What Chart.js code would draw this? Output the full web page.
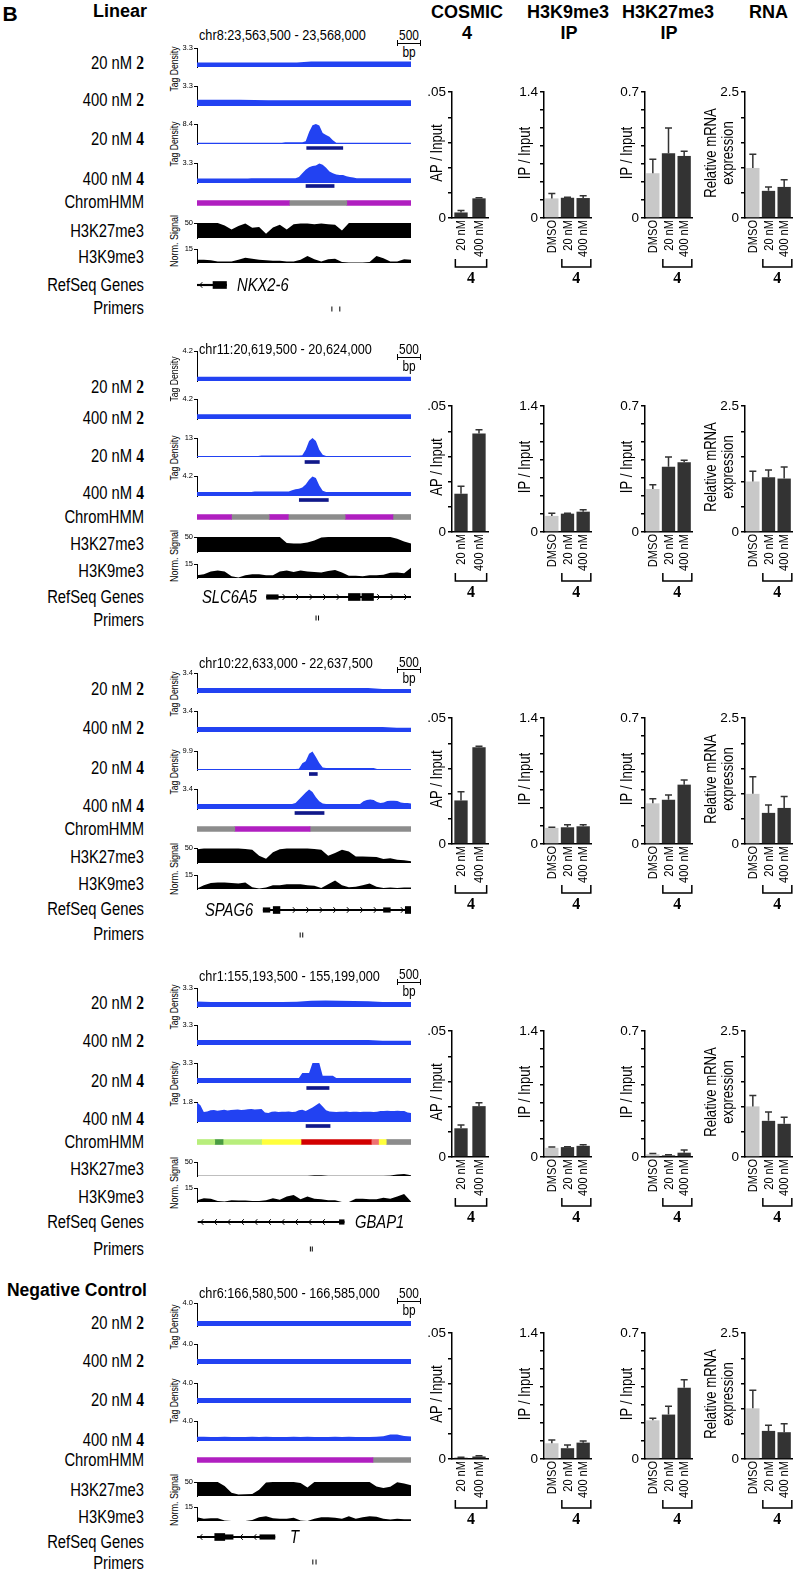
<!DOCTYPE html>
<html><head><meta charset="utf-8">
<script src="https://cdn.jsdelivr.net/npm/chart.js"></script>
<style>
html,body{margin:0;padding:0;background:#fff;overflow:hidden;}
#page{position:relative;width:794px;height:1572px;background:#fff;}
.t{position:absolute;white-space:nowrap;color:#000;line-height:1;}
canvas{position:absolute;}
.ln{position:absolute;background:#000;}
</style></head><body><div id="page"></div>
<script>
// ===================== DATA =====================
const locusGenes = ['NKX2-6','SLC6A5','SPAG6','GBAP1','T'];
const locusCoords = ['chr8:23,563,500 - 23,568,000','chr11:20,619,500 - 20,624,000','chr10:22,633,000 - 22,637,500','chr1:155,193,500 - 155,199,000','chr6:166,580,500 - 166,585,000'];
const regionLengthBp = [4500,4500,4500,5500,4500];
const sectionTitles = ['Linear', null, null, null, 'Negative Control'];
const trackConc = ['20 nM','400 nM','20 nM','400 nM'];
const trackCompound = ['2','2','4','4'];
const tagDensityMax = [[3.3,3.3,8.4,3.3],[4.2,4.2,13,4.2],[3.4,3.4,9.9,3.4],[3.3,3.3,3.3,1.8],[4.0,4.0,4.0,4.0]];
const tagDensityMaxLabels = [['3.3','3.3','8.4','3.3'],['4.2','4.2','13','4.2'],['3.4','3.4','9.9','3.4'],['3.3','3.3','3.3','1.8'],['4.0','4.0','4.0','4.0']];

const tagDensityNKX2_6 = [
 [0.8,0.8,0.8,0.8,0.8,0.8,0.8,0.8,0.95,0.95,0.95,0.95,0.95,0.95,0.95,0.95],
 [1.05,1.05,1.05,1.05,1.0,0.95,0.95,0.95,0.95,0.95,0.95,0.95,0.95,0.95,0.95,0.95],
 [0.55,0.55,0.55,0.55,0.55,0.55,0.55,0.55,0.55,0.55,0.55,0.55,0.55,0.55,0.55,0.55,0.55,0.55,0.55,0.55,0.55,0.55,0.55,0.55,0.55,0.55,0.7,0.7,0.7,0.7,0.7,0.7,1.2,5,7.9,8.4,7.8,4.6,3.8,3.0,1.6,0.55,0.55,0.55,0.55,0.55,0.55,0.55,0.55,0.55,0.55,0.55,0.55,0.55,0.55,0.55,0.55,0.55,0.55,0.55,0.55,0.55,0.55,0.55],
 [0.75,0.75,0.75,0.75,0.75,0.75,0.75,0.75,0.75,0.75,0.75,0.75,0.75,0.75,0.75,0.75,0.8,0.8,0.8,0.8,0.8,0.8,0.8,0.8,0.8,0.8,0.8,0.8,0.8,0.8,1.0,1.6,2.2,2.6,2.8,2.9,3.2,3.0,2.5,1.9,1.6,1.4,1.3,1.3,1.1,1.0,0.9,0.8,0.8,0.8,0.8,0.8,0.8,0.8,0.8,0.8,0.8,0.8,0.8,0.8,0.8,0.8,0.8,0.8]
];
const tagDensitySLC6A5 = [
 [0.6,0.6,0.6,0.6,0.6,0.6,0.6,0.6,0.6,0.6,0.6,0.6,0.6,0.6,0.6,0.6],
 [0.98,0.98,0.98,0.98,0.98,0.98,0.98,0.98,0.98,0.98,0.98,0.98,0.98,0.98,0.98,0.98],
 [0.7,0.7,0.7,0.7,0.7,0.7,0.7,0.7,0.7,0.7,0.7,0.7,0.7,0.7,0.7,0.7,0.7,0.7,0.7,1.0,1.0,1.0,1.0,1.0,1.0,1.0,1.0,1.0,1.0,1.0,1.0,1.2,5,11,13,11,5,1.5,0.7,0.7,0.7,0.7,0.7,0.7,0.7,0.7,0.7,0.7,0.7,0.7,0.7,0.7,0.7,0.7,0.7,0.7,0.7,0.7,0.7,0.7,0.7,0.7,0.7,0.7],
 [0.85,0.85,0.85,0.85,0.85,0.85,0.85,0.85,0.85,0.85,0.85,0.85,0.85,0.85,0.85,0.85,0.85,0.95,0.95,0.95,0.95,0.95,0.95,0.95,0.95,0.95,0.95,0.95,1.2,1.4,1.5,1.8,2.4,3.4,4.1,3.8,2.2,1.1,0.85,0.85,0.85,0.85,0.85,0.85,0.85,0.85,0.85,0.85,0.85,0.85,0.85,0.85,0.85,0.85,0.85,0.85,0.85,0.85,0.85,0.85,0.85,0.85,0.85,0.85]
];
const tagDensitySPAG6 = [
 [0.85,0.85,0.85,0.85,0.85,0.85,0.85,0.85,0.85,0.85,0.85,0.85,0.85,0.7,0.7,0.7],
 [0.82,0.82,0.82,0.82,0.82,0.82,0.82,0.82,0.82,0.82,0.82,0.82,0.82,0.82,0.68,0.68],
 [0.5,0.5,0.5,0.5,0.5,0.5,0.5,0.5,0.5,0.5,0.5,0.5,0.5,0.5,0.5,0.5,0.5,0.5,0.5,0.5,0.5,0.5,0.5,0.5,0.5,0.5,0.5,0.5,0.5,0.5,0.6,3.5,4.5,8.5,9.6,6.8,3.6,1.3,1.1,1.1,1.1,1.1,1.1,1.1,1.1,1.1,1.1,1.1,1.1,1.1,1.1,1.1,1.1,0.5,0.5,0.5,0.5,0.5,0.5,0.5,0.5,0.5,0.5,0.5],
 [0.85,0.85,0.85,0.85,0.85,0.85,0.85,0.85,0.85,0.85,0.85,0.85,0.85,0.85,0.85,0.85,0.85,0.85,0.85,0.85,0.85,0.85,0.85,0.85,0.85,0.85,0.85,0.85,0.85,1.0,1.6,2.2,2.8,3.3,2.9,2.0,1.3,0.95,0.85,0.85,0.85,0.85,0.85,0.85,0.85,0.85,0.85,0.85,0.85,1.3,1.55,1.6,1.55,1.2,1.0,1.1,1.35,1.4,1.4,1.35,1.1,1.0,1.0,0.95]
];
const tagDensityGBAP1 = [
 [0.95,0.85,0.85,0.85,0.85,0.85,0.85,0.9,1.1,1.15,1.1,1.05,1.0,0.85,0.85,0.85],
 [0.82,0.82,0.82,0.82,0.82,0.82,0.82,0.82,0.82,0.82,0.82,0.82,0.82,0.72,0.7,0.7],
 [0.82,0.82,0.82,0.82,0.82,0.82,0.82,0.82,0.82,0.82,0.82,0.82,0.82,0.82,0.82,0.82,0.82,0.82,0.82,0.82,0.82,0.82,0.82,0.82,0.82,0.82,0.82,0.82,0.82,0.82,0.82,1.65,1.65,1.65,3.3,3.3,3.3,1.2,1.2,1.2,1.2,0.82,0.82,0.82,0.82,0.82,0.82,0.82,0.82,0.82,0.82,0.82,0.82,0.82,0.82,0.82,0.82,0.82,0.82,0.82,0.82,0.82,0.82,0.82],
 [1.75,1.5,0.9,0.95,1.05,1.08,1.02,1.06,1.1,1.04,1.07,1.1,1.12,1.08,1.1,1.15,1.18,1.12,1.15,1.16,0.85,0.8,0.92,0.95,0.9,0.93,0.92,0.95,0.9,0.92,1.05,1.1,1.0,1.15,1.3,1.5,1.7,1.4,1.05,0.95,0.92,0.9,0.93,0.92,0.95,0.9,0.92,0.93,0.9,0.92,0.93,0.92,0.9,0.92,1.0,1.0,1.02,0.98,1.0,1.02,1.0,0.98,0.85,0.8]
];
const tagDensityT = [
 [0.86,0.86,0.86,0.86,0.86,0.86,0.86,0.86,0.86,0.86,0.86,0.86,0.86,0.86,0.86,0.86],
 [1.0,1.0,1.0,1.0,1.0,1.0,1.0,1.0,1.0,1.0,1.0,1.0,1.0,1.0,1.0,1.0],
 [1.0,1.0,1.0,1.0,1.0,1.0,1.0,1.0,1.0,1.0,1.0,1.0,1.0,1.0,1.0,1.0],
 [0.85,0.85,0.8,0.82,0.85,0.82,0.8,0.82,0.85,0.82,0.85,0.82,0.8,0.82,0.85,0.82,0.85,0.82,0.8,0.82,0.85,0.82,0.85,0.82,0.8,0.82,0.85,0.95,1.3,1.3,1.0,0.9]
];
const tagDensity = [tagDensityNKX2_6, tagDensitySLC6A5, tagDensitySPAG6, tagDensityGBAP1, tagDensityT];

const normSignalMax = [50, 15];
const normSignalMaxLabels = ['50','15'];
const h3k27me3Signal = [
 [50,50,50,50,42,28,40,48,34,37,14,35,44,28,46,48,48,46,48,46,44,25,50,50,50,50,50,50,50,50,50,50],
 [50,50,50,50,50,50,50,50,50,50,50,50,50,30,28,28,32,38,48,50,50,50,50,50,50,50,50,50,50,44,35,28],
 [46,48,48,48,48,48,48,47,44,24,14,36,46,48,48,48,48,47,44,24,33,44,38,22,22,21,20,13,16,11,9,6],
 [0.6,0.6,0.5,0.6,0.5,0.6,0.6,0.5,0.6,0.6,0.5,0.6,0.6,0.5,0.6,0.6,0.8,2.5,3,0.8,0.6,0.5,0.6,0.6,0.5,0.6,0.6,1,2,5,7,3],
 [50,50,50,50,36,12,5,6,7,22,48,50,50,50,50,46,30,50,50,50,50,50,50,50,50,50,34,29,33,49,45,38]
];
const h3k9me3Signal = [
 [3.5,3.5,3,1.5,1.5,1.5,3.5,5.5,4.5,3.5,3,2.5,2.5,1.5,1.5,3.5,7.5,4,1.5,4,4.5,1,0.5,0.5,0.5,1,7.5,5,1.5,1.5,4,3.5],
 [3,4,7,8,7,2,0.5,3,4,4,3,3,7,8,6.5,8,7,6.5,6,7.5,8.5,6,2.5,2.5,2,3,3,3.5,5.5,6,5,11],
 [0.5,4,6.5,7,7,6.5,6,7,2,0.5,1.5,4,4,5,5,5,4,3.5,1,5,9,4,2,2.5,4,6,2.5,1,1.5,1,1.5,1.5],
 [2,4,3.5,1,0.5,2,1.5,1.5,1,1,2,4,2.5,6,7.5,3,6,3.5,3,2,2,0,0,3.5,3.5,3,3,4.5,3.5,6,8.5,0.5],
 [4,2.5,3,3,0.5,0,0,0,1,4,5,3,2.5,2.5,3.5,0.5,0,2.5,4,4,3.5,2.5,5,2.5,4,5,4.5,2.5,1.5,2.5,2,2]
];

// called peaks (bp from region start) under 20 nM 4 and 400 nM 4 tracks
const peakRegions = [
 [[2307,3066],[2292,2883]],
 [[2271,2573],[2151,2762]],
 [[2362,2530],[2060,2672]],
 [[2820,3394],[2802,3420]],
 []
];

const chromStarts = [[0,1940,3150],[0,725,1518,1919,3115,4120],[0,795,2377],[0,456,670,1659,2673,4478,4665,4864],[0,3699]];
const chromEnds   = [[1940,3150,4500],[725,1518,1919,3115,4120,4500],[795,2377,4500],[456,670,1659,2673,4478,4665,4864,5500],[3699,4500]];
const chromStates = [
 ['repressed','quiescent','repressed'],
 ['repressed','quiescent','repressed','quiescent','repressed','quiescent'],
 ['quiescent','repressed','quiescent'],
 ['txWeak','tx','txWeak','enhancer','tss','tssFlank','enhancer','quiescent'],
 ['repressed','quiescent']
];

const geneSpan = [[0,620],[1463,4500],[1392,4500],[26,3781],[0,1638]];
const geneExons = [
 [[337,620,'cds']],
 [[1463,1708,'utr'],[3184,3431,'cds'],[3467,3711,'cds']],
 [[1392,1533,'utr'],[1603,1744,'cds'],[3922,4064,'utr'],[4380,4500,'cds']],
 [[3660,3781,'utr']],
 [[373,584,'cds'],[584,759,'utr'],[1322,1638,'utr']]
];
const geneStrand = ['-','+','+','-','-'];
const primerPositions = [[2868,3044],[2517,2572],[2165,2222],[2923,2974],[2446,2517]];

// bar charts
const assayTitles = [['COSMIC','4'],['H3K9me3','IP'],['H3K27me3','IP'],['RNA']];
const cosmicCategories = ['20 nM','400 nM'];
const ipCategories = ['DMSO','20 nM','400 nM'];
const cosmicMean = [[0.0022,0.0078],[0.0152,0.0391],[0.0173,0.0384],[0.0114,0.0202],[0.0005,0.0010]];
const cosmicSD   = [[0.0008,0.0002],[0.0030,0.0015],[0.0035,0.0004],[0.0013,0.0013],[0.0002,0.0003]];
const k9Mean = [[0.218,0.225,0.222],[0.179,0.204,0.226],[0.179,0.186,0.197],[0.102,0.110,0.124],[0.175,0.120,0.182]];
const k9SD   = [[0.055,0.005,0.025],[0.029,0.004,0.022],[0.007,0.029,0.018],[0.010,0.004,0.011],[0.036,0.036,0.018]];
const k27Mean = [[0.249,0.360,0.345],[0.239,0.363,0.388],[0.226,0.246,0.330],[0.015,0.009,0.024],[0.215,0.247,0.396]];
const k27SD   = [[0.078,0.140,0.026],[0.024,0.054,0.011],[0.026,0.026,0.026],[0.004,0.004,0.015],[0.012,0.046,0.044]];
const rnaMean = [[0.994,0.539,0.617],[1.003,1.087,1.061],[0.996,0.618,0.716],[1.005,0.718,0.659],[1.006,0.558,0.532]];
const rnaSD   = [[0.272,0.078,0.143],[0.201,0.143,0.228],[0.339,0.157,0.228],[0.215,0.176,0.131],[0.358,0.111,0.169]];
const barYMax = [0.05, 1.4, 0.7, 2.5];
const barYMaxLabels = ['.05','1.4','0.7','2.5'];
const barYSteps = [5, 7, 7, 5];
const barYTitles = ['AP / Input','IP / Input','IP / Input','Relative mRNA<br>expression'];
const bracketLabel = '4';

// ===================== STYLE / LAYOUT =====================
const SANS = "'Liberation Sans',Arial,Helvetica,sans-serif";
const SERIF = "'Liberation Serif','Times New Roman',serif";
const NARROW_SX = 0.82;
const BLUE = '#2242f2';
const NAVY = '#10188a';
const stateColors = {repressed:'#b01fc0', quiescent:'#8c8c8c', txWeak:'#b8ee7c', tx:'#4a9c42', enhancer:'#ffff3c', tss:'#d20000', tssFlank:'#ee7272'};
const PLOT_LEFT = 197, PLOT_W = 214;

const rowLayout = [
 {chrY:35, scaleY:35, tracks:[[47.7,66.7],[86,105.7],[124.3,144],[162.7,182.7]], peakY:[147.7,185.7], chromY:202.7, k27:[223.3,238], k9:[249.3,263.3], geneY:285, primerY:309, labelY:[61.7,99.3,138.3,178.3,201.7,230.7,257.3,285,308.3], tagLabelY:[69,144], normLabelY:241, barTop:90, barZero:218.3, geneNameX:237, titleY:11},
 {chrY:349.3, scaleY:349, tracks:[[351,381],[399.3,419.3],[437.7,456.7],[475.7,495.7]], peakY:[461.7,500], chromY:517.3, k27:[537.3,551.7], k9:[564,577.7], geneY:597.3, primerY:618.3, labelY:[385.7,416.7,455,491.7,516.7,544,570.7,597.3,620], tagLabelY:[379,458], normLabelY:556, barTop:404.3, barZero:532.3, geneNameX:202},
 {chrY:662.7, scaleY:661.7, tracks:[[673.3,693.3],[711,731.7],[750.7,770],[789,809]], peakY:[774.3,812.7], chromY:829.3, k27:[848.3,863.3], k9:[875,889], geneY:910, primerY:935, labelY:[688.3,726.7,766.7,805,829.3,856.7,884,909.3,934.3], tagLabelY:[694,772], normLabelY:869, barTop:715.7, barZero:843.7, geneNameX:205},
 {chrY:975.7, scaleY:974.3, tracks:[[987.7,1006.7],[1025,1045],[1063.3,1083.3],[1101.7,1122.3]], peakY:[1087.7,1126], chromY:1142.3, k27:[1161.7,1175.7], k9:[1187.7,1201.7], geneY:1222.3, primerY:1249, labelY:[1001.7,1040,1080,1118.3,1142.3,1169,1197.3,1222.3,1249], tagLabelY:[1007,1084], normLabelY:1183, barTop:1029, barZero:1156.7, geneNameX:355},
 {chrY:1293.3, scaleY:1293, tracks:[[1302.7,1326],[1344.3,1364],[1382.7,1402.7],[1420.7,1441]], peakY:[], chromY:1460, k27:[1481.7,1496], k9:[1506.7,1520.7], geneY:1537.3, primerY:1561.7, labelY:[1322.3,1360,1399.3,1439.3,1460,1490,1516.7,1541.7,1563.3], tagLabelY:[1327,1401], normLabelY:1500, barTop:1331, barZero:1459.3, geneNameX:290, titleY:1290.7}
];

const barCols = [
 {axisX:452, plotW:36, cats:cosmicCategories, mean:cosmicMean, sd:cosmicSD, barPct:0.74, yTitleX:437, titleX:467},
 {axisX:544, plotW:47, cats:ipCategories, mean:k9Mean, sd:k9SD, barPct:0.85, yTitleX:525, titleX:568},
 {axisX:645, plotW:47, cats:ipCategories, mean:k27Mean, sd:k27SD, barPct:0.85, yTitleX:627, titleX:668},
 {axisX:745, plotW:47, cats:ipCategories, mean:rnaMean, sd:rnaSD, barPct:0.85, yTitleX:720, titleX:768.5}
];

// ===================== HELPERS =====================
Chart.defaults.font.family = SANS;
Chart.defaults.color = '#000';
Chart.defaults.plugins.legend.display = false;
Chart.defaults.plugins.tooltip.enabled = false;

const page = document.getElementById('page');
function canvasAt(l, t, w, h) {
  const c = document.createElement('canvas');
  w = Math.round(w); h = Math.round(h);
  c.width = w; c.height = h;
  c.style.left = Math.round(l) + 'px'; c.style.top = Math.round(t) + 'px';
  c.style.width = w + 'px'; c.style.height = h + 'px';
  page.appendChild(c);
  return c;
}
// narrow text = Liberation Sans condensed horizontally
function text(html, x, y, o = {}) {
  const d = document.createElement('div');
  d.className = 't';
  d.innerHTML = html;
  d.style.fontFamily = o.family || SANS;
  d.style.fontSize = (o.size || 18) + 'px';
  if (o.bold) d.style.fontWeight = 'bold';
  if (o.italic) d.style.fontStyle = 'italic';
  if (o.lh) { d.style.lineHeight = o.lh; d.style.textAlign = 'center'; }
  d.style.left = x + 'px'; d.style.top = y + 'px';
  const sx = o.wide ? 1 : NARROW_SX;
  let tx = '-50%', origin = '50% 50%';
  if (o.align === 'right') { tx = '-100%'; origin = '100% 50%'; }
  if (o.align === 'left') { tx = '0'; origin = '0 50%'; }
  d.style.transformOrigin = origin;
  d.style.transform = `translate(${tx},-50%)` + (o.rotate ? ` rotate(${o.rotate}deg)` : '') + ` scaleX(${sx})`;
  page.appendChild(d);
  return d;
}
// vertical label reading upward whose end sits at (x, y)
function upLabel(str, x, y, size) {
  const d = document.createElement('div');
  d.className = 't';
  d.textContent = str;
  d.style.fontFamily = SANS; d.style.fontSize = size + 'px';
  d.style.left = x + 'px'; d.style.top = y + 'px';
  d.style.transformOrigin = '0 0';
  d.style.transform = `rotate(-90deg) scaleX(${NARROW_SX}) translate(-100%,-50%)`;
  page.appendChild(d);
}
function line(l, t, w, h) {
  const d = document.createElement('div'); d.className = 'ln';
  d.style.left = l + 'px'; d.style.top = t + 'px'; d.style.width = w + 'px'; d.style.height = h + 'px';
  page.appendChild(d);
}
const baseOpts = () => ({responsive:false, animation:false, devicePixelRatio:1, events:[]});

function signalTrack(top, bottom, values, max, maxLabel, color) {
  const W = 27, P = 6;
  const t0 = Math.round(top), b0 = Math.round(bottom);
  const c = canvasAt(PLOT_LEFT - W, t0 - P, PLOT_W + W, b0 - t0 + 2 * P);
  new Chart(c, {
    type: 'line',
    data: {labels: values.map((_, i) => i), datasets: [{data: values, fill: 'origin', backgroundColor: color, borderWidth: 0, pointRadius: 0, tension: 0}]},
    options: Object.assign(baseOpts(), {
      layout: {padding: {top: P, left: 0, right: 0, bottom: P}},
      scales: {
        x: {display: false, offset: false},
        y: {min: 0, max: max,
            afterFit(s) { s.width = W; },
            afterBuildTicks(s) { s.ticks = [{value: max}]; },
            ticks: {font: {size: 7.5, family: SANS}, color: '#000', padding: 1, autoSkip: false, callback: () => maxLabel},
            grid: {drawOnChartArea: false, drawTicks: true, tickLength: 3, color: '#000', lineWidth: 1},
            border: {display: true, color: '#000', width: 1}}
      }
    })
  });
}

function hBarStrip(y, h, len, datasets) {
  const c = canvasAt(PLOT_LEFT, Math.round(y - h / 2), PLOT_W, h);
  new Chart(c, {
    type: 'bar',
    data: {labels: [''], datasets: datasets},
    options: Object.assign(baseOpts(), {
      indexAxis: 'y',
      layout: {padding: 0},
      scales: {x: {type: 'linear', min: 0, max: len, display: false}, y: {display: false}}
    })
  });
}

const chevronPlugin = {
  id: 'chevrons',
  afterDatasetsDraw(chart, args, opts) {
    const xs = chart.scales.x, ctx = chart.ctx;
    const cy = (chart.chartArea.top + chart.chartArea.bottom) / 2;
    const a = xs.getPixelForValue(opts.span[0]), b = xs.getPixelForValue(opts.span[1]);
    const ex = opts.exons.map(e => [xs.getPixelForValue(e[0]) - 3, xs.getPixelForValue(e[1]) + 3]);
    ctx.save(); ctx.strokeStyle = '#000'; ctx.lineWidth = 1;
    for (let p = a + 4; p < b - 2; p += 13.5) {
      if (ex.some(e => p > e[0] && p < e[1])) continue;
      const d = opts.strand === '+' ? 1 : -1;
      ctx.beginPath();
      ctx.moveTo(p - 1.3 * d, cy - 2.8); ctx.lineTo(p + 1.3 * d, cy); ctx.lineTo(p - 1.3 * d, cy + 2.8);
      ctx.stroke();
    }
    ctx.restore();
  }
};

const errorBarPlugin = {
  id: 'errbars',
  afterDatasetsDraw(chart, args, opts) {
    const meta = chart.getDatasetMeta(0), ys = chart.scales.y, ctx = chart.ctx;
    const vals = chart.data.datasets[0].data;
    ctx.save(); ctx.strokeStyle = '#333'; ctx.lineWidth = 1.5;
    meta.data.forEach((el, i) => {
      const yt = ys.getPixelForValue(vals[i] + opts.sd[i]);
      ctx.beginPath();
      ctx.moveTo(el.x, el.y); ctx.lineTo(el.x, yt);
      ctx.moveTo(el.x - 3.5, yt); ctx.lineTo(el.x + 3.5, yt);
      ctx.stroke();
    });
    ctx.restore();
  }
};
const bracketPlugin = {
  id: 'bracket',
  afterDraw(chart, args, opts) {
    const meta = chart.getDatasetMeta(0), ctx = chart.ctx;
    const f = meta.data[opts.from], l = meta.data[opts.to];
    const x1 = f.x - f.width / 2 + 1, x2 = l.x + l.width / 2 + 1;
    const y = chart.chartArea.bottom + 49;
    ctx.save(); ctx.strokeStyle = '#000'; ctx.lineWidth = 1.5;
    ctx.beginPath(); ctx.moveTo(x1, y - 8); ctx.lineTo(x1, y); ctx.lineTo(x2, y); ctx.lineTo(x2, y - 8); ctx.stroke();
    ctx.fillStyle = '#000'; ctx.font = 'bold 16px ' + SERIF; ctx.textAlign = 'center'; ctx.textBaseline = 'middle';
    ctx.fillText(opts.label, (x1 + x2) / 2, y + 12);
    ctx.restore();
  }
};

function barChart(col, r, ci) {
  const L = rowLayout[r];
  const W = 26, PT = 8, PR = 8, XH = 72;
  const top = Math.round(L.barTop), zero = Math.round(L.barZero);
  const left = Math.round(col.axisX - W);
  const c = canvasAt(left, top - PT, W + col.plotW + PR, PT + (zero - top) + XH);
  const max = barYMax[ci], steps = barYSteps[ci], maxLabel = barYMaxLabels[ci];
  const firstCmp = col.cats.indexOf('20 nM');
  const ch = new Chart(c, {
    type: 'bar',
    data: {labels: col.cats, datasets: [{data: col.mean[r], backgroundColor: col.cats.map(k => k === 'DMSO' ? '#c8c8c8' : '#333333'), barPercentage: col.barPct, categoryPercentage: 1}]},
    options: Object.assign(baseOpts(), {
      layout: {padding: {top: PT, right: PR, left: 0, bottom: 0}},
      plugins: {errbars: {sd: col.sd[r]}, bracket: {from: firstCmp, to: col.cats.length - 1, label: bracketLabel}},
      scales: {
        x: {afterFit(s) { s.height = XH; }, grid: {display: false, drawTicks: false, tickLength: 0}, border: {display: true, color: '#000', width: 1.5},
            ticks: {display: false}},
        y: {min: 0, max: max,
            afterFit(s) { s.width = W; },
            afterBuildTicks(s) { const t = []; for (let i = 0; i <= steps; i++) t.push({value: max * i / steps}); s.ticks = t; },
            ticks: {font: {size: 13.5, family: SANS}, color: '#000', padding: 2, autoSkip: false,
                    callback: (v, i) => i === 0 ? '0' : (i === steps ? maxLabel : '')},
            grid: {drawOnChartArea: false, drawTicks: true, tickLength: 4, color: '#000', lineWidth: 1.5},
            border: {display: true, color: '#000', width: 1.5}}
      }
    }),
    plugins: [errorBarPlugin, bracketPlugin]
  });
  // category labels as real text, placed at the library's own tick positions
  const xs = ch.scales.x;
  col.cats.forEach((cat, i) => upLabel(cat, left + xs.getPixelForTick(i), top - PT + xs.top + 2, 13.5));
  text(barYTitles[ci], col.yTitleX, (L.barTop + L.barZero) / 2 - 1, {size: 16, rotate: -90, lh: ci === 3 ? '1.05' : null});
}

// ===================== BUILD =====================
text('B', 10, 12.5, {bold: true, size: 21, wide: true});
assayTitles.forEach((tt, ci) => {
  text(tt[0], barCols[ci].titleX, 12, {bold: true, size: 18, wide: true});
  if (tt[1]) text(tt[1], barCols[ci].titleX + (ci === 0 ? 0 : 1), 33, {bold: true, size: 18, wide: true});
});

rowLayout.forEach((L, r) => {
  const len = regionLengthBp[r];
  if (sectionTitles[r]) {
    if (r === 0) text(sectionTitles[r], 120, L.titleY, {bold: true, size: 18, wide: true});
    else text(sectionTitles[r], 147, L.titleY, {bold: true, size: 17.5, align: 'right', wide: true});
  }
  // region coordinates & scale bar
  text(locusCoords[r], 199, L.chrY, {size: 15.5, align: 'left'});
  text('500', 409, L.scaleY, {size: 14.5});
  line(397, L.scaleY + 7.5, 24, 1);
  line(397, L.scaleY + 5, 1, 6);
  line(420, L.scaleY + 5, 1, 6);
  text('bp', 409, L.scaleY + 16.5, {size: 14.5});

  // row labels
  for (let k = 0; k < 4; k++) {
    text(`${trackConc[k]} <b style="font-family:${SERIF};font-size:19px">${trackCompound[k]}</b>`, 144, L.labelY[k], {size: 18, align: 'right'});
  }
  ['ChromHMM','H3K27me3','H3K9me3','RefSeq Genes','Primers'].forEach((s, i) => text(s, 144, L.labelY[4 + i], {size: 18, align: 'right'}));
  text('Tag Density', 173.5, L.tagLabelY[0], {size: 10.5, rotate: -90});
  text('Tag Density', 173.5, L.tagLabelY[1], {size: 10.5, rotate: -90});
  text('Norm. Signal', 173.5, L.normLabelY, {size: 11, rotate: -90});

  // tag density tracks
  for (let k = 0; k < 4; k++) {
    signalTrack(L.tracks[k][0], L.tracks[k][1], tagDensity[r][k], tagDensityMax[r][k], tagDensityMaxLabels[r][k], BLUE);
  }
  // peaks
  peakRegions[r].forEach((pk, i) => {
    hBarStrip(L.peakY[i], 8, len, [{data: [[pk[0], pk[1]]], backgroundColor: NAVY, barThickness: 3}]);
  });
  // ChromHMM
  hBarStrip(L.chromY, 10, len, chromStarts[r].map((s, i) => ({data: [[s, chromEnds[r][i]]], backgroundColor: stateColors[chromStates[r][i]], barThickness: 5, grouped: false})));
  // histone signal
  signalTrack(L.k27[0], L.k27[1], h3k27me3Signal[r], normSignalMax[0], normSignalMaxLabels[0], '#000');
  signalTrack(L.k9[0], L.k9[1], h3k9me3Signal[r], normSignalMax[1], normSignalMaxLabels[1], '#000');
  // gene model
  const geneSets = [{data: [[geneSpan[r][0], geneSpan[r][1]]], backgroundColor: '#000', barThickness: 1.5, grouped: false}]
    .concat(geneExons[r].map(e => ({data: [[e[0], e[1]]], backgroundColor: '#000', barThickness: e[2] === 'cds' ? 7 : 4.5, grouped: false})));
  const cG = canvasAt(PLOT_LEFT, Math.round(L.geneY - 8), PLOT_W, 16);
  new Chart(cG, {
    type: 'bar', data: {labels: [''], datasets: geneSets},
    options: Object.assign(baseOpts(), {indexAxis: 'y', layout: {padding: 0},
      plugins: {chevrons: {span: geneSpan[r], exons: geneExons[r], strand: geneStrand[r]}},
      scales: {x: {type: 'linear', min: 0, max: len, display: false}, y: {display: false}}}),
    plugins: [chevronPlugin]
  });
  text(locusGenes[r], L.geneNameX, L.geneY, {size: 18, italic: true, align: 'left'});
  // primers
  const cP = canvasAt(PLOT_LEFT, Math.round(L.primerY - 8), PLOT_W, 16);
  new Chart(cP, {
    type: 'scatter',
    data: {datasets: [{data: primerPositions[r].map(p => ({x: p, y: 0})), pointStyle: 'line', rotation: 90, radius: 4.5, borderColor: '#000', borderWidth: 1}]},
    options: Object.assign(baseOpts(), {layout: {padding: 0},
      scales: {x: {type: 'linear', min: 0, max: len, display: false}, y: {min: -1, max: 1, display: false}}})
  });
  // bar charts
  barCols.forEach((col, ci) => barChart(col, r, ci));
});
</script></body></html>
